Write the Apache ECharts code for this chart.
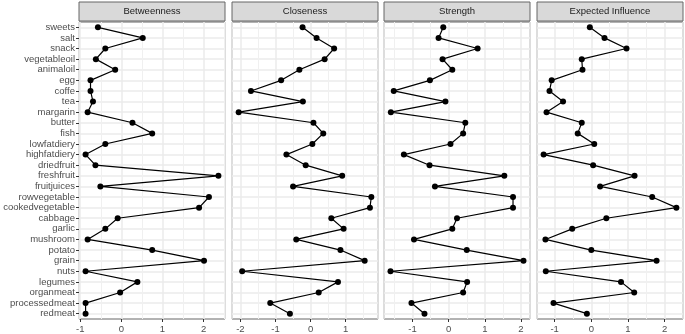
<!DOCTYPE html>
<html>
<head>
<meta charset="utf-8">
<script src="https://cdn.jsdelivr.net/npm/echarts@6/dist/echarts.min.js"></script>
<style>
  html, body { margin: 0; padding: 0; background: #fff; }
  #chart { width: 685px; height: 334px; }
</style>
</head>
<body>
<div id="chart"></div>
<script>
  // categories, top to bottom
  var categories = ['sweets', 'salt', 'snack', 'vegetableoil', 'animaloil', 'egg', 'coffe', 'tea',
    'margarin', 'butter', 'fish', 'lowfatdiery', 'highfatdiery', 'driedfruit', 'freshfruit',
    'fruitjuices', 'rowvegetable', 'cookedvegetable', 'cabbage', 'garlic', 'mushroom', 'potato',
    'grain', 'nuts', 'legumes', 'organmeat', 'processedmeat', 'redmeat'];

  var betweenness = [-0.57, 0.52, -0.39, -0.62, -0.15, -0.75, -0.75, -0.69, -0.82, 0.27, 0.75,
    -0.39, -0.87, -0.63, 2.36, -0.51, 2.13, 1.89, -0.09, -0.39, -0.82, 0.75, 2.01, -0.87, 0.39,
    -0.03, -0.87, -0.87];
  var closeness = [-0.23, 0.17, 0.67, 0.40, -0.32, -0.84, -1.70, -0.22, -2.05, 0.08, 0.36,
    0.05, -0.69, -0.14, 0.90, -0.50, 1.73, 1.69, 0.59, 0.94, -0.41, 0.85, 1.54, -1.95, 0.78,
    0.23, -1.15, -0.59];
  var strength = [-0.15, -0.28, 0.80, -0.17, 0.10, -0.52, -1.52, -0.09, -1.60, 0.46, 0.40,
    0.05, -1.24, -0.53, 1.54, -0.38, 1.78, 1.78, 0.23, 0.10, -0.96, 0.50, 2.07, -1.61, 0.51,
    0.40, -1.03, -0.67];
  var expectedInfluence = [-0.04, 0.36, 0.96, -0.26, -0.24, -1.08, -1.14, -0.77, -1.22, -0.26,
    -0.37, 0.08, -1.30, 0.05, 1.18, 0.24, 1.66, 2.32, 0.41, -0.52, -1.25, 0.00, 1.78, -1.24,
    0.81, 1.17, -1.03, -0.12];

  var panelTitles = ['Betweenness', 'Closeness', 'Strength', 'Expected Influence'];
  var panelValues = [betweenness, closeness, strength, expectedInfluence];
  var xLimits = [[-1.03, 2.52], [-2.24, 1.92], [-1.79, 2.25], [-1.48, 2.50]];

  var font = '"Liberation Sans", Arial, sans-serif';
  var panelLeft = [79, 232, 384, 537];
  var panelWidth = 146;
  var panelTop = 22, panelHeight = 297;

  var grids = [], xAxes = [], yAxes = [], series = [], graphics = [];

  panelTitles.forEach(function (title, i) {
    grids.push({
      left: panelLeft[i], top: panelTop, width: panelWidth, height: panelHeight,
      show: true, borderColor: '#666666', borderWidth: 1, backgroundColor: '#fff'
    });
    xAxes.push({
      gridIndex: i, type: 'value', min: xLimits[i][0], max: xLimits[i][1], splitNumber: 4,
      axisLine: { show: false, onZero: false },
      axisTick: { show: true, length: 3, lineStyle: { color: '#333333' } },
      axisLabel: { color: '#4D4D4D', fontSize: 9.5, fontFamily: font, margin: 5,
        showMinLabel: false, showMaxLabel: false },
      splitLine: { show: true, lineStyle: { color: '#EBEBEB', width: 1.5 } },
      minorTick: { show: false, splitNumber: 2 },
      minorSplitLine: { show: true, lineStyle: { color: '#F0F0F0', width: 1 } }
    });
    yAxes.push({
      gridIndex: i, type: 'category', data: categories, inverse: true, boundaryGap: true,
      axisLine: { show: false, onZero: false },
      axisTick: { show: i === 0, alignWithLabel: true, length: 3, lineStyle: { color: '#333333' } },
      axisLabel: { show: i === 0, color: '#4D4D4D', fontSize: 9.5, fontFamily: font, margin: 4, interval: 0 },
      splitLine: { show: true, alignWithLabel: true, interval: 0, lineStyle: { color: '#EBEBEB', width: 1.5 } }
    });
    series.push({
      type: 'line', xAxisIndex: i, yAxisIndex: i,
      data: panelValues[i].map(function (v, k) { return [v, categories[k]]; }),
      symbol: 'circle', symbolSize: 6,
      itemStyle: { color: '#000' },
      lineStyle: { color: '#000', width: 1.2 },
      animation: false
    });
    // strip header
    graphics.push({
      type: 'rect',
      shape: { x: panelLeft[i], y: 2, width: panelWidth, height: 19 },
      style: { fill: '#D9D9D9', stroke: '#666666', lineWidth: 1 }
    });
    graphics.push({
      type: 'text',
      x: panelLeft[i] + panelWidth / 2, y: 11.5,
      style: { text: title, fill: '#1A1A1A', font: '9.5px ' + font, align: 'center', verticalAlign: 'middle' }
    });
  });

  var myChart = echarts.init(document.getElementById('chart'));
  myChart.setOption({
    backgroundColor: '#fff',
    animation: false,
    grid: grids,
    xAxis: xAxes,
    yAxis: yAxes,
    series: series,
    graphic: graphics
  });
</script>
</body>
</html>
